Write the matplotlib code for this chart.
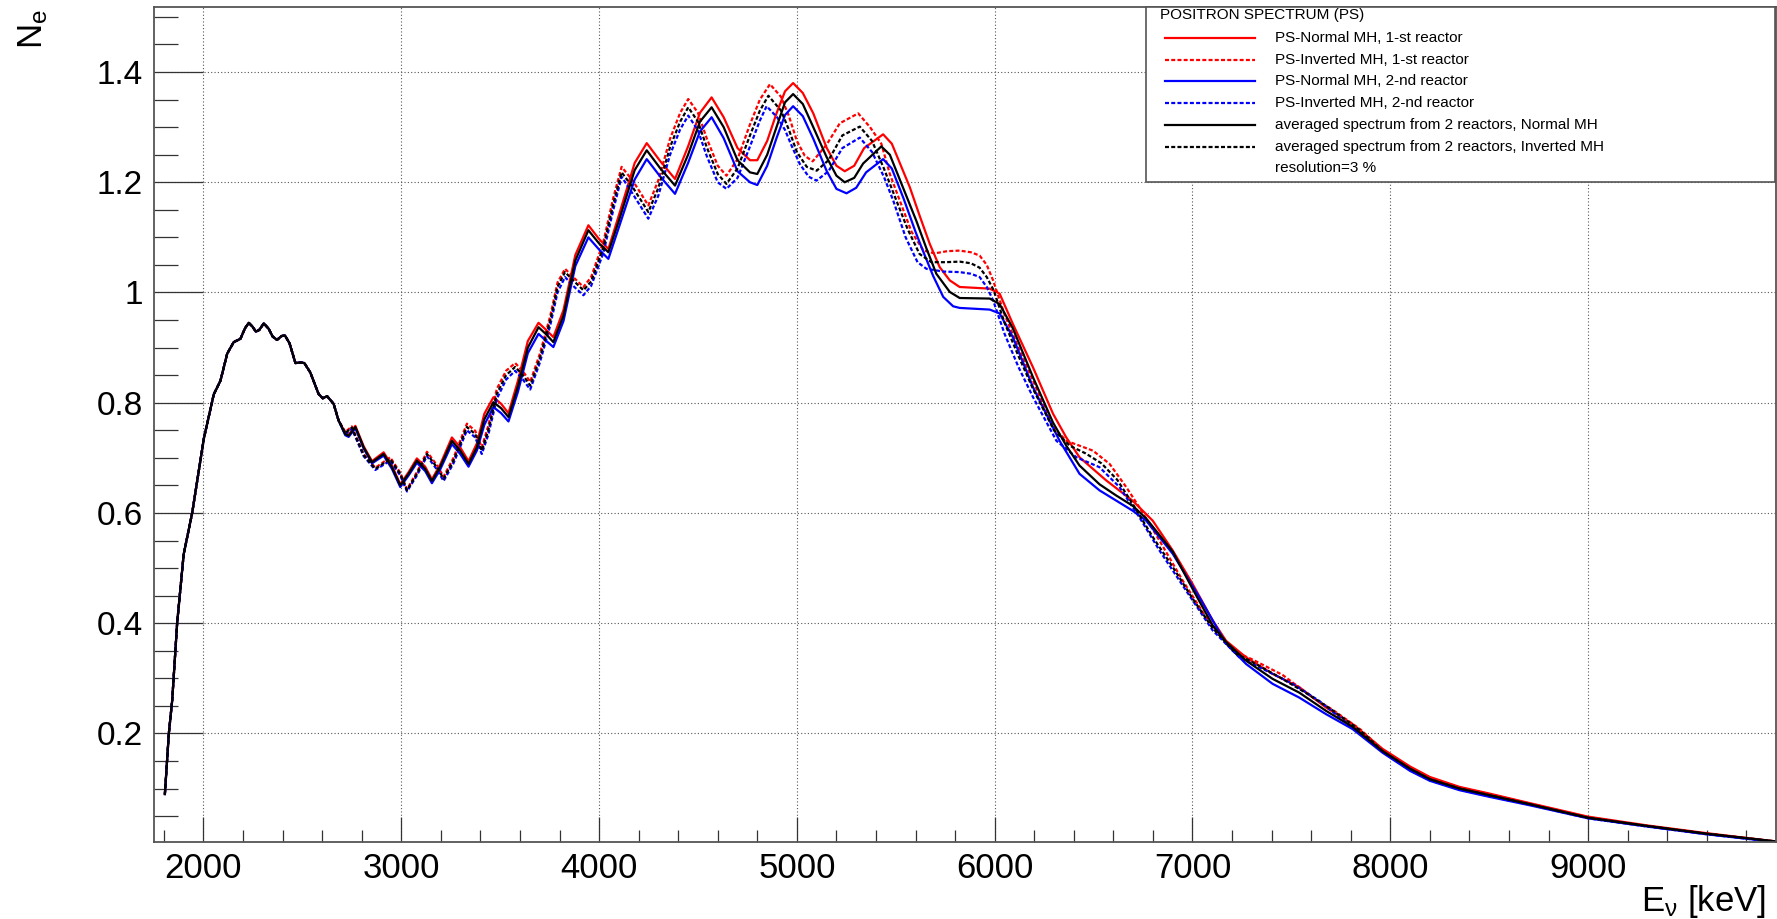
import numpy as np
import matplotlib
matplotlib.use("Agg")
import matplotlib.pyplot as plt
from matplotlib.ticker import MultipleLocator, FixedLocator, FuncFormatter
from matplotlib.patches import Rectangle

plt.rcParams['font.family'] = ['Liberation Sans', 'DejaVu Sans']
plt.rcParams['mathtext.fontset'] = 'custom'
plt.rcParams['mathtext.rm'] = 'Liberation Sans'
plt.rcParams['mathtext.it'] = 'Liberation Sans:italic'

# positron spectrum below ~2.7 MeV, identical for every case (E in keV, N_e)
low_spectrum = [
    (1805, 0.090), (1825, 0.200), (1842, 0.260), (1867, 0.400), (1900, 0.525),
    (1943, 0.600), (2002, 0.735), (2052, 0.815), (2086, 0.840), (2120, 0.889),
    (2153, 0.910), (2187, 0.916), (2210, 0.935), (2229, 0.945), (2248, 0.938),
    (2265, 0.929), (2282, 0.932), (2305, 0.944), (2330, 0.934), (2350, 0.920),
    (2372, 0.914), (2395, 0.921), (2412, 0.922), (2435, 0.908), (2465, 0.872),
    (2490, 0.873), (2510, 0.872), (2540, 0.855), (2582, 0.816), (2603, 0.808),
    (2625, 0.812), (2658, 0.798), (2683, 0.768),
]

normal_r1 = [
    (2717, 0.745), (2734, 0.742), (2768, 0.758), (2810, 0.721), (2852, 0.694), (2911, 0.710),
    (2953, 0.686), (2995, 0.652), (3037, 0.674), (3079, 0.699), (3121, 0.684), (3155, 0.661),
    (3197, 0.688), (3256, 0.737), (3298, 0.719), (3340, 0.694), (3382, 0.726), (3420, 0.780),
    (3466, 0.810), (3505, 0.798), (3542, 0.781), (3590, 0.840), (3640, 0.912), (3694, 0.945),
    (3730, 0.933), (3769, 0.919), (3820, 0.968), (3880, 1.068), (3946, 1.122), (4000, 1.097),
    (4047, 1.079), (4100, 1.140), (4180, 1.235), (4241, 1.271), (4310, 1.238), (4384, 1.206),
    (4450, 1.265), (4510, 1.326), (4569, 1.354), (4630, 1.318), (4700, 1.262), (4763, 1.240),
    (4800, 1.240), (4850, 1.275), (4897, 1.325), (4940, 1.365), (4981, 1.380), (5030, 1.362),
    (5083, 1.325), (5150, 1.263), (5200, 1.230), (5242, 1.220), (5290, 1.230), (5340, 1.262),
    (5436, 1.287), (5480, 1.270), (5571, 1.191), (5620, 1.140), (5672, 1.088), (5722, 1.046),
    (5773, 1.022), (5823, 1.010), (5975, 1.007), (6025, 0.998), (6092, 0.943), (6194, 0.864),
    (6295, 0.780), (6362, 0.737), (6429, 0.701), (6564, 0.659), (6698, 0.622), (6799, 0.586),
    (6900, 0.532), (7001, 0.471), (7102, 0.405), (7170, 0.368), (7271, 0.338), (7405, 0.308),
    (7540, 0.284), (7675, 0.247), (7809, 0.217), (7961, 0.172), (8100, 0.140), (8200, 0.121),
    (8350, 0.103), (8500, 0.091), (8700, 0.074), (9000, 0.049), (9300, 0.033), (9600, 0.019),
    (9950, 0.004),
]

inverted_r1 = [
    (2717, 0.747), (2750, 0.757), (2810, 0.707), (2869, 0.682), (2944, 0.701), (2995, 0.673),
    (3029, 0.643), (3079, 0.674), (3130, 0.711), (3180, 0.687), (3214, 0.666), (3264, 0.700),
    (3332, 0.762), (3374, 0.749), (3407, 0.719), (3440, 0.758), (3483, 0.825), (3530, 0.858),
    (3576, 0.872), (3615, 0.857), (3652, 0.838), (3700, 0.888), (3753, 0.957), (3790, 1.018),
    (3828, 1.043), (3875, 1.026), (3921, 1.010), (3960, 1.028), (4022, 1.092), (4072, 1.172),
    (4114, 1.228), (4172, 1.202), (4249, 1.158), (4300, 1.204), (4359, 1.279), (4410, 1.326),
    (4451, 1.351), (4500, 1.326), (4544, 1.280), (4600, 1.230), (4644, 1.212), (4700, 1.242),
    (4763, 1.305), (4813, 1.350), (4864, 1.378), (4920, 1.355), (4960, 1.320), (5000, 1.275),
    (5040, 1.248), (5080, 1.238), (5150, 1.268), (5217, 1.307), (5310, 1.325), (5370, 1.300),
    (5427, 1.270), (5470, 1.215), (5520, 1.167), (5580, 1.110), (5640, 1.076), (5697, 1.071),
    (5760, 1.075), (5823, 1.076), (5880, 1.073), (5924, 1.067), (5960, 1.050), (5992, 1.022),
    (6050, 0.960), (6120, 0.900), (6194, 0.840), (6295, 0.756), (6362, 0.731), (6430, 0.722),
    (6497, 0.713), (6581, 0.689), (6665, 0.647), (6732, 0.610), (6833, 0.550), (6951, 0.477),
    (7068, 0.411), (7203, 0.350), (7304, 0.334), (7456, 0.306), (7608, 0.265), (7708, 0.243),
    (7850, 0.207), (7961, 0.170), (8100, 0.138), (8200, 0.119), (8350, 0.102), (8500, 0.090),
    (8700, 0.073), (9000, 0.048), (9300, 0.032), (9600, 0.018), (9950, 0.004),
]

normal_r2 = [
    (2717, 0.741), (2734, 0.738), (2768, 0.754), (2810, 0.717), (2852, 0.690), (2911, 0.704),
    (2953, 0.680), (2995, 0.647), (3037, 0.668), (3079, 0.691), (3121, 0.676), (3155, 0.654),
    (3197, 0.679), (3256, 0.725), (3298, 0.707), (3340, 0.684), (3382, 0.713), (3420, 0.760),
    (3466, 0.792), (3505, 0.781), (3542, 0.766), (3590, 0.820), (3640, 0.890), (3694, 0.925),
    (3730, 0.913), (3769, 0.901), (3820, 0.948), (3880, 1.048), (3946, 1.100), (4000, 1.078),
    (4047, 1.061), (4100, 1.118), (4180, 1.205), (4241, 1.242), (4310, 1.210), (4384, 1.179),
    (4450, 1.235), (4510, 1.292), (4569, 1.318), (4630, 1.280), (4700, 1.220), (4763, 1.200),
    (4800, 1.195), (4850, 1.230), (4897, 1.280), (4940, 1.322), (4981, 1.338), (5030, 1.320),
    (5083, 1.279), (5150, 1.221), (5200, 1.188), (5251, 1.180), (5300, 1.190), (5350, 1.218),
    (5436, 1.242), (5480, 1.225), (5540, 1.170), (5600, 1.110), (5638, 1.075), (5689, 1.030),
    (5740, 0.992), (5790, 0.975), (5823, 0.972), (5975, 0.969), (6025, 0.962), (6092, 0.919),
    (6194, 0.828), (6328, 0.731), (6429, 0.671), (6530, 0.641), (6698, 0.604), (6766, 0.586),
    (6900, 0.526), (7035, 0.447), (7170, 0.363), (7271, 0.326), (7405, 0.290), (7540, 0.265),
    (7675, 0.235), (7809, 0.208), (7961, 0.165), (8100, 0.132), (8200, 0.114), (8350, 0.097),
    (8500, 0.085), (8700, 0.070), (9000, 0.046), (9300, 0.031), (9600, 0.017), (9950, 0.003),
]

inverted_r2 = [
    (2717, 0.743), (2750, 0.753), (2810, 0.703), (2869, 0.678), (2944, 0.695), (2995, 0.668),
    (3029, 0.639), (3079, 0.668), (3130, 0.703), (3180, 0.679), (3214, 0.658), (3264, 0.690),
    (3332, 0.750), (3374, 0.737), (3407, 0.707), (3440, 0.742), (3483, 0.807), (3530, 0.842),
    (3576, 0.858), (3615, 0.842), (3652, 0.824), (3700, 0.872), (3753, 0.940), (3790, 1.000),
    (3828, 1.028), (3875, 1.010), (3921, 0.995), (3960, 1.012), (4022, 1.072), (4072, 1.150),
    (4114, 1.210), (4172, 1.178), (4249, 1.134), (4300, 1.176), (4359, 1.250), (4410, 1.296),
    (4451, 1.321), (4500, 1.294), (4544, 1.248), (4600, 1.200), (4644, 1.188), (4700, 1.208),
    (4763, 1.265), (4813, 1.312), (4847, 1.338), (4900, 1.318), (4940, 1.295), (4975, 1.265),
    (5015, 1.233), (5060, 1.210), (5099, 1.203), (5160, 1.220), (5230, 1.262), (5318, 1.281),
    (5380, 1.255), (5440, 1.210), (5487, 1.167), (5550, 1.100), (5610, 1.055), (5655, 1.043),
    (5740, 1.038), (5823, 1.037), (5880, 1.034), (5924, 1.028), (5960, 1.010), (5992, 0.986),
    (6050, 0.925), (6120, 0.865), (6194, 0.810), (6312, 0.731), (6413, 0.701), (6530, 0.683),
    (6631, 0.647), (6732, 0.592), (6833, 0.532), (6968, 0.459), (7102, 0.387), (7237, 0.338),
    (7372, 0.314), (7506, 0.290), (7641, 0.259), (7800, 0.213), (7961, 0.166), (8100, 0.133),
    (8200, 0.115), (8350, 0.098), (8500, 0.086), (8700, 0.071), (9000, 0.046), (9300, 0.031),
    (9600, 0.017), (9950, 0.003),
]

normal_avg = [
    (2717, 0.743), (2734, 0.740), (2768, 0.756), (2810, 0.719), (2852, 0.692), (2911, 0.707),
    (2953, 0.683), (2995, 0.650), (3037, 0.671), (3079, 0.695), (3121, 0.680), (3155, 0.658),
    (3197, 0.684), (3256, 0.731), (3298, 0.713), (3340, 0.689), (3382, 0.719), (3420, 0.770),
    (3466, 0.801), (3505, 0.790), (3542, 0.774), (3590, 0.830), (3640, 0.900), (3694, 0.937),
    (3730, 0.925), (3769, 0.910), (3820, 0.958), (3880, 1.058), (3946, 1.113), (4000, 1.089),
    (4047, 1.073), (4100, 1.130), (4180, 1.222), (4241, 1.258), (4310, 1.225), (4384, 1.194),
    (4450, 1.250), (4510, 1.310), (4569, 1.336), (4630, 1.300), (4700, 1.240), (4763, 1.218),
    (4800, 1.215), (4850, 1.250), (4897, 1.300), (4940, 1.345), (4981, 1.360), (5030, 1.342),
    (5083, 1.300), (5150, 1.246), (5200, 1.212), (5242, 1.200), (5290, 1.208), (5335, 1.234),
    (5427, 1.265), (5470, 1.250), (5537, 1.190), (5604, 1.130), (5655, 1.080), (5705, 1.034),
    (5773, 1.001), (5823, 0.990), (5975, 0.989), (6025, 0.979), (6092, 0.935), (6194, 0.846),
    (6295, 0.764), (6362, 0.722), (6429, 0.686), (6530, 0.652), (6613, 0.632), (6698, 0.613),
    (6766, 0.590), (6900, 0.530), (7001, 0.462), (7102, 0.396), (7170, 0.366), (7271, 0.332),
    (7405, 0.299), (7540, 0.274), (7675, 0.241), (7809, 0.212), (7961, 0.168), (8100, 0.136),
    (8200, 0.117), (8350, 0.100), (8500, 0.088), (8700, 0.072), (9000, 0.047), (9300, 0.032),
    (9600, 0.018), (9950, 0.004),
]

inverted_avg = [
    (2717, 0.745), (2750, 0.755), (2810, 0.705), (2869, 0.680), (2944, 0.698), (2995, 0.671),
    (3029, 0.641), (3079, 0.671), (3130, 0.707), (3180, 0.683), (3214, 0.662), (3264, 0.695),
    (3332, 0.756), (3374, 0.743), (3407, 0.713), (3440, 0.750), (3483, 0.816), (3530, 0.850),
    (3576, 0.865), (3615, 0.850), (3652, 0.831), (3700, 0.880), (3753, 0.949), (3790, 1.010),
    (3828, 1.037), (3875, 1.020), (3921, 1.004), (3960, 1.020), (4022, 1.082), (4072, 1.161),
    (4114, 1.218), (4172, 1.190), (4249, 1.146), (4300, 1.190), (4359, 1.264), (4410, 1.310),
    (4451, 1.336), (4500, 1.310), (4544, 1.264), (4600, 1.215), (4644, 1.197), (4700, 1.225),
    (4763, 1.285), (4813, 1.330), (4856, 1.357), (4920, 1.330), (4960, 1.295), (5000, 1.255),
    (5050, 1.228), (5100, 1.221), (5160, 1.240), (5230, 1.285), (5318, 1.301), (5380, 1.275),
    (5440, 1.225), (5503, 1.167), (5560, 1.115), (5620, 1.070), (5680, 1.055), (5750, 1.055),
    (5823, 1.056), (5880, 1.053), (5924, 1.045), (5960, 1.028), (5995, 1.004), (6050, 0.945),
    (6120, 0.885), (6194, 0.825), (6300, 0.750), (6380, 0.722), (6460, 0.708), (6540, 0.690),
    (6620, 0.660), (6700, 0.615), (6800, 0.556), (6900, 0.502), (7000, 0.445), (7100, 0.392),
    (7220, 0.345), (7320, 0.326), (7450, 0.300), (7580, 0.272), (7700, 0.244), (7850, 0.205),
    (7961, 0.168), (8100, 0.136), (8200, 0.117), (8350, 0.100), (8500, 0.088), (8700, 0.072),
    (9000, 0.047), (9300, 0.032), (9600, 0.018), (9950, 0.004),
]

series_labels = [
    "PS-Normal MH, 1-st reactor",
    "PS-Inverted MH, 1-st reactor",
    "PS-Normal MH, 2-nd reactor",
    "PS-Inverted MH, 2-nd reactor",
    "averaged spectrum from 2 reactors, Normal MH",
    "averaged spectrum from 2 reactors, Inverted MH",
]

DOTTED = (0, (1.8, 1.0))
series = [
    (normal_r1, "#ff0000", "-"),
    (inverted_r1, "#ff0000", DOTTED),
    (normal_r2, "#0000ff", "-"),
    (inverted_r2, "#0000ff", DOTTED),
    (normal_avg, "#000000", "-"),
    (inverted_avg, "#000000", DOTTED),
]

W, H = 1777, 919
fig = plt.figure(figsize=(W / 100, H / 100), dpi=100)
# frame in pixel units: x 154..1776, y 7..842 (from top)
ax = fig.add_axes([154 / W, 1 - 842 / H, 1622 / W, 835 / H])

for pts, color, ls in series:
    e, n = np.array(low_spectrum + pts).T
    ax.plot(e, n, color=color, linestyle=ls, lw=1.6,
            solid_joinstyle="round", dash_joinstyle="round")

ax.set_xlim(1750, 9950)
ax.set_ylim(0.003, 1.518)

ax.xaxis.set_major_locator(FixedLocator(np.arange(2000, 9001, 1000)))
ax.xaxis.set_minor_locator(MultipleLocator(200))
ax.yaxis.set_major_locator(FixedLocator([0.2, 0.4, 0.6, 0.8, 1.0, 1.2, 1.4]))
ax.yaxis.set_minor_locator(MultipleLocator(0.05))
ax.yaxis.set_major_formatter(FuncFormatter(lambda v, p: f"{v:g}"))

ax.tick_params(which="both", direction="in", color="#333333", width=0.9,
               top=False, right=False)
ax.tick_params(axis="x", which="major", length=18, labelsize=25, pad=7)
ax.tick_params(axis="x", which="minor", length=9)
ax.tick_params(axis="y", which="major", length=35, labelsize=24, pad=8)
ax.tick_params(axis="y", which="minor", length=17.5)

ax.grid(which="major", color="#555555", linestyle=(0, (1, 2)), lw=0.8)
for sp in ax.spines.values():
    sp.set_color("#555555")
    sp.set_linewidth(1.3)

# axis titles placed at the ends of the axes
fig.text(33 / W, 1 - 9 / H, r"$\mathregular{N_e}$", rotation=90,
         ha="center", va="top", fontsize=25)
fig.text(1766 / W, 1 - 911 / H, r"$\mathregular{E_ν}$ [keV]",
         ha="right", va="baseline", fontsize=25)

# legend box in the upper right corner
def ax_x(px):
    return (px - 154) / 1622


def ax_y(py):
    return (842 - py) / 835


ax.add_patch(Rectangle((ax_x(1146), ax_y(182)), ax_x(1775) - ax_x(1146),
                       ax_y(7) - ax_y(182), transform=ax.transAxes,
                       facecolor="white", edgecolor="#555555", lw=1.2,
                       zorder=5, clip_on=False))
ax.text(ax_x(1160), ax_y(15), "POSITRON SPECTRUM (PS)", transform=ax.transAxes,
        ha="left", va="center", fontsize=11, zorder=6)
row_y = [38.3, 60, 81.3, 102.7, 125, 146.7]
for (pts, color, ls), label, ry in zip(series, series_labels, row_y):
    ax.plot([ax_x(1165), ax_x(1255)], [ax_y(ry), ax_y(ry)], transform=ax.transAxes,
            color=color, linestyle=ls, lw=1.6, zorder=6, clip_on=False)
    ax.text(ax_x(1275), ax_y(ry), label, transform=ax.transAxes,
            ha="left", va="center", fontsize=11, zorder=6)
ax.text(ax_x(1275), ax_y(168.3), "resolution=3 %", transform=ax.transAxes,
        ha="left", va="center", fontsize=11, zorder=6)

fig.savefig("out.png", dpi=100, facecolor="white")
